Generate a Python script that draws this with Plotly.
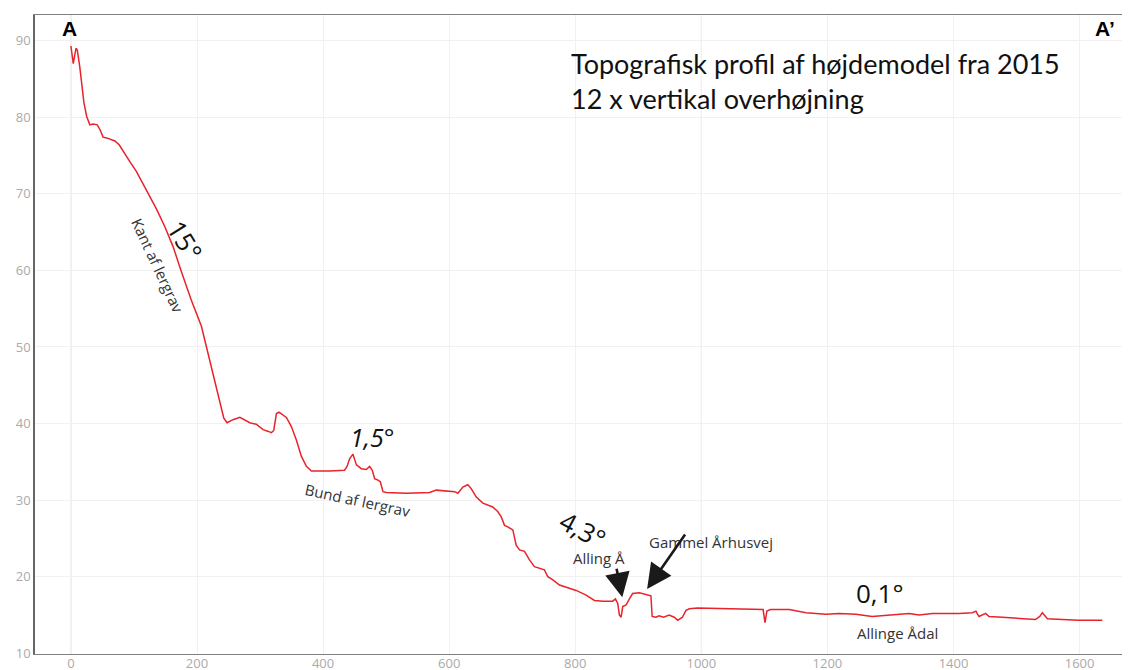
import plotly.graph_objects as go

# Profile data: distance (m) and elevation (m)
distance = [0, 3.7, 8, 10, 14, 20.6, 25, 30, 35, 41.7, 46, 51, 56.6, 61.8, 69.7, 76.5, 83, 93.5, 104, 120,
            135.8, 149, 162, 175.4, 191, 207, 217.6, 231, 242.5, 247.7, 257, 268, 278.5, 283.7, 294, 304.8,
            312, 318, 321.7, 326, 330, 341.8, 349.7, 357.7, 365.6, 373.5, 381.5, 394.6, 410.5, 434, 438,
            442, 447.4, 452.8, 460.7, 468.6, 473.8, 478, 481.8, 487, 490.8, 495, 500.3, 532, 569, 579.5,
            595.4, 608.6, 613.8, 621.7, 629.6, 635, 643, 653.4, 669, 677, 682.6, 687.8, 693, 701, 706.3,
            711.6, 719.5, 727.4, 735.3, 743, 751, 756.4, 764, 775, 785.6, 801.4, 817.3, 830.4, 843.6,
            859.4, 863.7, 867.4, 870, 872.7, 875.3, 880.6, 885.9, 891, 901.7, 912, 920, 922, 928, 933,
            940, 949, 957, 962.5, 970, 975.7, 981, 994, 1034, 1086.6, 1098, 1101, 1104, 1110, 1139.5,
            1166, 1197.6, 1218.7, 1245, 1271, 1298, 1308.5, 1329.6, 1345.5, 1366.6, 1387.8, 1409, 1430,
            1435.6, 1438, 1440.6, 1451, 1456.4, 1477.5, 1504, 1530, 1536.8, 1541, 1544, 1549, 1572.6,
            1599, 1636]
elevation = [89.3, 87.0, 89.0, 88.8, 86.6, 81.9, 80.1, 79.0, 79.1, 79.0, 78.4, 77.4, 77.3, 77.1, 76.9, 76.4,
             75.5, 74.2, 72.9, 70.5, 68.0, 65.7, 63.1, 59.8, 56.1, 52.7, 49.2, 44.8, 40.7, 40.1, 40.5, 40.8,
             40.4, 40.1, 39.9, 39.2, 39.0, 38.8, 39.1, 41.3, 41.5, 40.8, 39.6, 37.8, 35.7, 34.4, 33.8, 33.8,
             33.8, 33.9, 34.4, 35.4, 36.0, 34.6, 34.1, 34.0, 34.4, 33.9, 32.8, 32.6, 32.4, 31.1, 31.0, 30.9,
             31.0, 31.3, 31.2, 31.1, 30.9, 31.7, 32.0, 31.5, 30.4, 29.6, 29.1, 28.5, 27.8, 26.7, 26.5, 26.1,
             24.1, 23.5, 23.3, 22.2, 21.3, 21.1, 20.9, 20.0, 19.6, 18.9, 18.6, 18.2, 17.6, 16.9, 16.8, 16.8,
             17.1, 16.5, 15.0, 14.7, 16.1, 16.3, 17.1, 17.8, 17.9, 17.7, 17.5, 14.8, 14.7, 14.9, 14.7, 15.0,
             14.7, 14.3, 14.7, 15.6, 15.8, 15.9, 15.8, 15.7, 15.7, 14.0, 15.5, 15.7, 15.7, 15.3, 15.1, 15.2,
             15.1, 14.8, 15.0, 15.0, 15.2, 15.0, 15.2, 15.2, 15.2, 15.3, 15.5, 15.1, 14.8, 15.2, 14.8, 14.7,
             14.5, 14.4, 14.8, 15.3, 15.0, 14.5, 14.4, 14.3, 14.3]

x_ticks = [0, 200, 400, 600, 800, 1000, 1200, 1400, 1600]
y_ticks = [10, 20, 30, 40, 50, 60, 70, 80, 90]

fig = go.Figure()
fig.add_trace(go.Scatter(x=distance, y=elevation, mode="lines",
                         line=dict(color="#e8232b", width=1.5), hoverinfo="skip"))

# darker major gridlines at 0 and 1000
for xv in [0, 1000]:
    fig.add_shape(type="line", xref="x", yref="paper", x0=xv, x1=xv, y0=0, y1=1,
                  line=dict(color="#dcdcdc", width=1), layer="below")

small = dict(family="Open Sans", size=15, color="#333333")
big = dict(family="Open Sans", size=26, color="#111111")

ann = [
    dict(x=-1.6, y=91.6, text="<b>A</b>", font=dict(family="Liberation Sans", size=21, color="#000")),
    dict(x=1641, y=91.6, text="<b>A’</b>", font=dict(family="Liberation Sans", size=21, color="#000")),
    dict(x=790, y=84.7, text="Topografisk profil af højdemodel fra 2015<br>12 x vertikal overhøjning",
         xanchor="left", align="left", font=dict(family="Lato", size=27, color="#111")),
    dict(x=181, y=64.0, text="15°", textangle=58, font=big),
    dict(x=137.5, y=60.7, text="Kant af lergrav", textangle=65, font=small),
    dict(x=478, y=38.3, text="1,5°", font=dict(family="Open Sans", size=25, color="#111", style="italic")),
    dict(x=454, y=30.0, text="Bund af lergrav", textangle=12, font=small),
    dict(x=813, y=26.1, text="4,3°", textangle=28, font=big),
    dict(x=838, y=22.46, text="Alling Å", font=small),
    dict(x=1016, y=24.5, text="Gammel Århusvej", font=small),
    dict(x=1283, y=17.9, text="0,1°", font=big),
    dict(x=1311, y=12.7, text="Allinge Ådal", font=small),
]
annotations = [dict(xref="x", yref="y", showarrow=False, **a) for a in ann]
# arrows
annotations.append(dict(xref="x", yref="y", x=874.6, y=17.3, text="", showarrow=True,
                        ax=-6, ay=-30, arrowhead=2, arrowsize=1.9, arrowwidth=2.6, arrowcolor="#1a1a1a"))
annotations.append(dict(xref="x", yref="y", x=914, y=18.4, text="", showarrow=True,
                        ax=39, ay=-56, arrowhead=2, arrowsize=1.9, arrowwidth=2.6, arrowcolor="#1a1a1a"))

fig.update_layout(
    width=1130, height=670,
    margin=dict(l=27, r=8, t=7, b=24),
    paper_bgcolor="white", plot_bgcolor="white",
    showlegend=False,
    annotations=annotations,
    xaxis=dict(range=[-57, 1680], tickvals=x_ticks, ticktext=[str(v) for v in x_ticks],
               showgrid=True, gridcolor="#f1f1f1", gridwidth=1, zeroline=False, automargin=False,
               showline=True, linecolor="#808080", linewidth=1.2, mirror=True, ticks="",
               ticklabelstandoff=-3,
               tickfont=dict(family="Open Sans", size=13, color="#aaaaaa")),
    yaxis=dict(range=[9.9, 93.35], tickvals=y_ticks, ticktext=[str(v) for v in y_ticks],
               showgrid=True, gridcolor="#f1f1f1", gridwidth=1, zeroline=False, automargin=False,
               showline=True, linecolor="#666666", linewidth=1.5, ticks="",
               tickfont=dict(family="Open Sans", size=13, color="#aaaaaa")),
)

fig.write_html("out.html")
